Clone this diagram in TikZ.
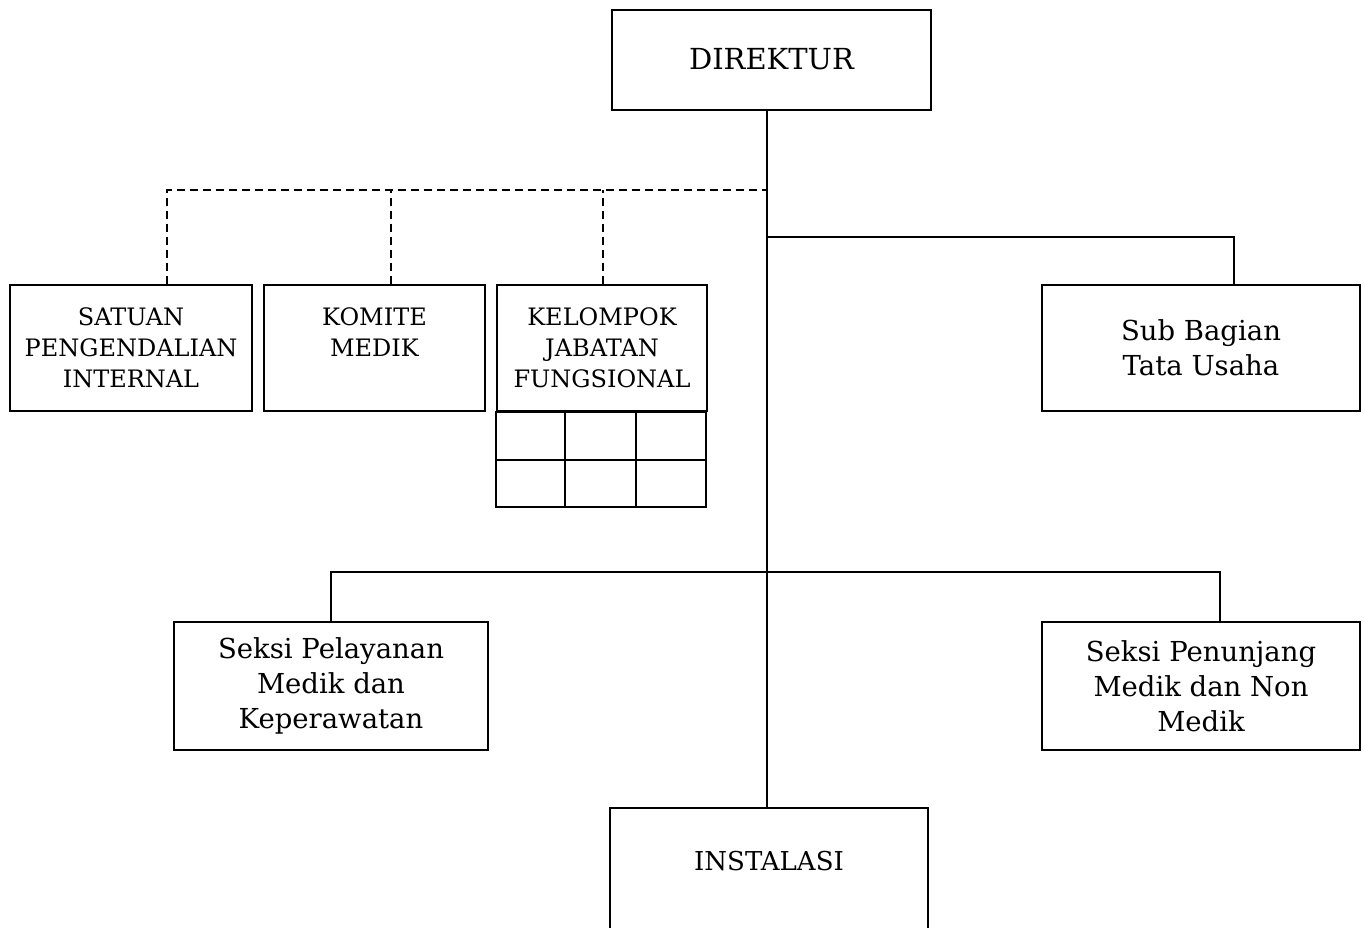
\documentclass[tikz,border=0pt]{standalone}
\usepackage{fontspec}
\setmainfont{DejaVu Serif}
\usepackage{tikz}

\begin{document}
\begin{tikzpicture}[x=1pt, y=-1pt, line width=2pt,
  unit/.style={draw, align=center, inner sep=0pt},
  bigcaps/.style={font=\fontsize{29}{36}\selectfont},
  caps/.style={font=\fontsize{24}{31}\selectfont},
  words/.style={font=\fontsize{27.5}{35}\selectfont},
  staff/.style={dash pattern=on 8pt off 5pt}]
\useasboundingbox (0, 0) rectangle (1364, 927);
\clip (0, 0) rectangle (1364, 927);
\node[unit, bigcaps, minimum width=319pt, minimum height=100pt] (dir) at (771.5, 59.5) {DIREKTUR};
\node[unit, caps, minimum width=242pt, minimum height=126pt] (spi) at (131, 348) {SATUAN\\PENGENDALIAN\\INTERNAL};
\node[unit, caps, minimum width=221pt, minimum height=126pt] (km) at (374.5, 348) {KOMITE\\MEDIK\\~};
\node[unit, caps, minimum width=210pt, minimum height=126pt] (kjf) at (602, 348) {KELOMPOK\\JABATAN\\FUNGSIONAL};
\node[unit, words, minimum width=318pt, minimum height=126pt] (sbtu) at (1201, 348) {Sub Bagian\\Tata Usaha};
\node[unit, words, minimum width=314pt, minimum height=128pt] (spmk) at (331, 686) {Seksi Pelayanan\\Medik dan\\Keperawatan};
\node[unit, words, minimum width=318pt, minimum height=128pt] (spm) at (1201, 686) {Seksi Penunjang\\Medik dan Non\\Medik};
\node[unit, font=\fontsize{26}{34}\selectfont, minimum width=318pt, minimum height=140pt] (inst) at (769, 878) {INSTALASI\\~};
\coordinate (staffbar) at (767, 190);
\coordinate (tubar) at (767, 237);
\coordinate (seksibar) at (767, 572);
\draw (dir.south -| tubar) -- (inst.north -| tubar);
\draw[staff] ([xshift=36pt]spi.north) |- (staffbar);
\draw[staff] ([xshift=16.5pt]km.north) -- ([xshift=16.5pt]km.north |- staffbar);
\draw[staff] ([xshift=1pt]kjf.north) -- ([xshift=1pt]kjf.north |- staffbar);
\draw (tubar) -| ([xshift=33pt]sbtu.north);
\draw (spmk.north) |- (seksibar) -| ([xshift=19pt]spm.north);
\draw (kjf.south west) rectangle ++(210, 95);
\draw (kjf.south west) ++(0, 48) -- ++(210, 0);
\foreach \col in {69, 140}
  \draw (kjf.south west) ++(\col, 0) -- ++(0, 95);
\end{tikzpicture}
\end{document}
